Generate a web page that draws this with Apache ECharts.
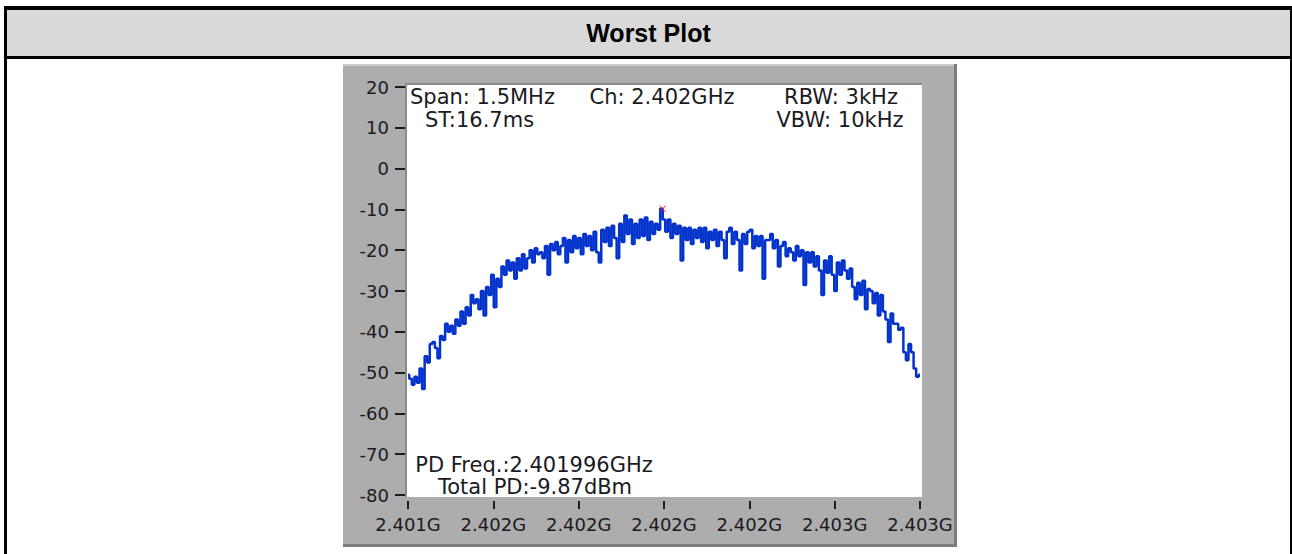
<!DOCTYPE html>
<html>
<head>
<meta charset="utf-8">
<script src="https://cdn.jsdelivr.net/npm/echarts/dist/echarts.min.js"></script>
<style>
  html, body { margin:0; padding:0; background:#fff; width:1292px; height:554px; overflow:hidden; }
  #frame { position:absolute; left:4px; top:6px; width:1283px; height:600px;
           border-left:3px solid #000; border-top:4px solid #000; border-right:3px solid #000; }
  #header { position:absolute; left:0; top:0; width:100%; height:46px; background:#d9d9d9;
            border-bottom:3px solid #000; text-align:center; line-height:46px;
            font-family:"Liberation Sans", Arial, sans-serif; font-weight:bold; font-size:25px; color:#000; }
  #chart { position:absolute; left:0; top:0; width:1292px; height:554px; }
</style>
</head>
<body>
<div id="frame"><div id="header">Worst Plot</div></div>
<div id="chart"></div>
<script>
// ---- data ----
const sweepStartMHz = 2401.25;   // span 1.5 MHz centred on 2.402 GHz
const sweepEndMHz = 2402.75;
const sweepStepMHz = 0.0075;     // analyser bin spacing
const tickStepMHz = 0.25;
const xTickLabels = ['2.401G', '2.402G', '2.402G', '2.402G', '2.402G', '2.403G', '2.403G'];
const yMin = -80, yMax = 20, yStep = 10;

const powerDbm = [
  -50.5, -51.5, -53, -51, -52.5, -49, -54, -46, -47.5, -43, -42.5,
  -44, -46.5, -41, -42, -38, -40, -38.5, -40.5, -37, -38.5,
  -35, -38, -34, -36, -31, -33, -32, -34.5, -30, -36,
  -29, -31, -26, -34, -27, -29, -24, -26, -22.5, -25,
  -23, -27, -22, -25, -21, -24.5, -22, -20, -23, -19.5,
  -21, -20.5, -22, -19, -26, -18.5, -20, -18, -21, -19,
  -17, -23, -17.5, -20.5, -16.5, -19.5, -17, -21, -16, -19,
  -16.5, -20, -15.5, -20.5, -23, -15, -18, -14.5, -19, -14,
  -17, -22, -13.5, -18, -11.5, -16, -12.5, -18.5, -13.5, -17,
  -12.5, -16.5, -12, -17.5, -13, -16, -13.5, -15, -9.87, -12.5,
  -15.5, -12.5, -17, -13.5, -16, -14, -22.5, -14.5, -17.5, -14.5,
  -18.5, -15, -17, -14.5, -18, -14.5, -19.5, -15.5, -17.5, -15,
  -19, -15.5, -17.5, -22, -15.5, -14.5, -18.5, -15.5, -17.5, -25,
  -16, -18.5, -15.5, -15, -19.5, -16.5, -19, -16.5, -27, -17.5,
  -17.5, -16, -19.5, -17.5, -24, -19, -18, -21.5, -19.5, -20.5,
  -22.5, -19, -21.5, -20, -28.5, -20.5, -23, -20.5, -24, -21.5,
  -25, -31, -22.5, -25.5, -21.5, -26, -30, -23, -26, -22.5,
  -25, -27, -24.5, -29, -32, -28, -31, -27.5, -34.5, -29.5,
  -30, -33, -30.5, -36, -31, -35, -37, -42.5, -35.5, -38,
  -38, -39.5, -39, -45, -47, -43, -45, -49, -51, -50.5
];

const peakFreqMHz = 2401.996;
const peakPowerDbm = -9.87;

const annotTopLeft = ['Span: 1.5MHz', 'ST:16.7ms'];
const annotTopMid = 'Ch: 2.402GHz';
const annotTopRight = ['RBW: 3kHz', 'VBW: 10kHz'];
const annotBottom = ['PD Freq.:2.401996GHz', 'Total PD:-9.87dBm'];

// ---- build ----
const traceData = powerDbm.map((v, i) => [sweepStartMHz + i * sweepStepMHz, v]);

const chart = echarts.init(document.getElementById('chart'), null, { renderer: 'svg' });
const txtFont = '"DejaVu Sans", Verdana, sans-serif';
const txtColor = '#1a1a22';
const annFont = '21px ' + txtFont;

function ann(text, x, y, align) {
  return { type: 'text', z: 50, x: x, y: y,
    style: { text: text, font: annFont, fill: txtColor, textAlign: align, textVerticalAlign: 'middle', lineHeight: 20 } };
}

const option = {
  animation: false,
  backgroundColor: 'transparent',
  grid: { left: 408, right: 372, top: 87, bottom: 59, containLabel: false },
  xAxis: {
    type: 'value', min: sweepStartMHz, max: sweepEndMHz, interval: tickStepMHz,
    position: 'bottom', offset: 6,
    axisLine: { show: false, onZero: false },
    axisTick: { show: true, length: 8, lineStyle: { color: txtColor, width: 2 } },
    axisLabel: {
      margin: 14, fontSize: 18, fontFamily: txtFont, color: txtColor,
      formatter: v => xTickLabels[Math.round((v - sweepStartMHz) / tickStepMHz)]
    },
    splitLine: { show: false }
  },
  yAxis: {
    type: 'value', min: yMin, max: yMax, interval: yStep,
    position: 'left', offset: 3,
    axisLine: { show: false, onZero: false },
    axisTick: { show: true, length: 10, lineStyle: { color: txtColor, width: 2 } },
    axisLabel: { margin: 16, fontSize: 18, fontFamily: txtFont, color: txtColor },
    splitLine: { show: false }
  },
  graphic: [
    // gray instrument panel
    { type: 'rect', z: -20, shape: { x: 343, y: 64, width: 613, height: 481 }, style: { fill: '#adadad' } },
    { type: 'rect', z: -19, shape: { x: 343, y: 64, width: 613, height: 2 }, style: { fill: '#cdcdcd' } },
    { type: 'rect', z: -19, shape: { x: 954, y: 64, width: 3, height: 483 }, style: { fill: '#7d7d7d' } },
    { type: 'rect', z: -19, shape: { x: 343, y: 544, width: 614, height: 3 }, style: { fill: '#7d7d7d' } },
    // plot area
    { type: 'rect', z: -18, shape: { x: 405, y: 83, width: 517, height: 414 }, style: { fill: '#8a8a8a' } },
    { type: 'rect', z: -17, shape: { x: 407, y: 85, width: 515, height: 412 }, style: { fill: '#ffffff' } },
    // annotations
    ann(annotTopLeft[0], 410, 97, 'left'),
    ann(annotTopLeft[1], 425, 120, 'left'),
    ann(annotTopMid, 662, 97, 'center'),
    ann(annotTopRight[0], 841, 97, 'center'),
    ann(annotTopRight[1], 840, 120, 'center'),
    ann(annotBottom[0], 534, 465, 'center'),
    ann(annotBottom[1], 535, 487, 'center')
  ],
  series: [
    {
      type: 'line', data: traceData, showSymbol: false, step: 'middle',
      lineStyle: { color: '#0433cc', width: 2.5 }, z: 3
    },
    {
      type: 'scatter', data: [[peakFreqMHz, peakPowerDbm]],
      symbol: 'path://M0,1L1,0L5,4L9,0L10,1L6,5L10,9L9,10L5,6L1,10L0,9L4,5Z',
      symbolSize: 7, itemStyle: { color: '#e3262a' }, z: 4
    }
  ]
};
chart.setOption(option);
</script>
</body>
</html>
